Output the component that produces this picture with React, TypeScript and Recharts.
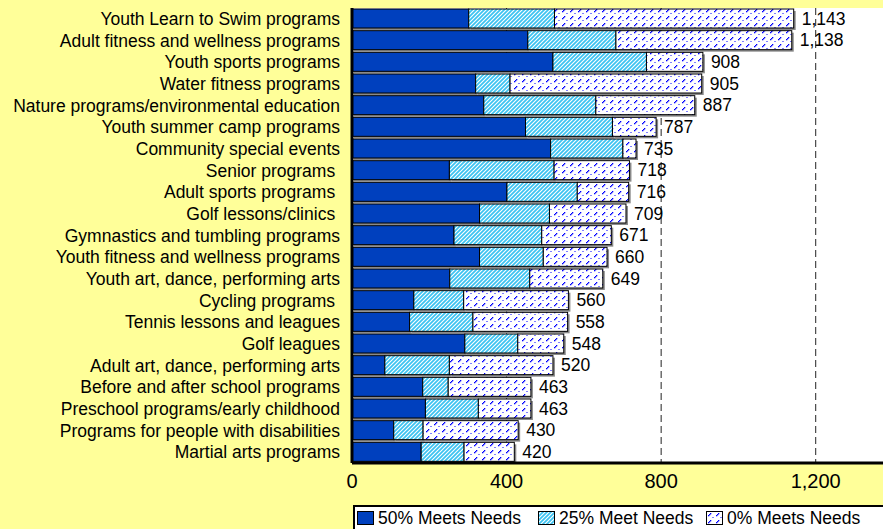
import React from 'react';
import { BarChart, Bar, XAxis, YAxis, CartesianGrid, LabelList, Legend } from 'recharts';

const NBSP = '\u00a0';
const categories = [
  'Youth Learn to Swim programs',
  'Adult fitness and wellness programs',
  'Youth sports programs',
  'Water fitness programs',
  'Nature programs/environmental education',
  'Youth summer camp programs',
  'Community special events',
  'Senior programs' + NBSP,
  'Adult sports programs' + NBSP,
  'Golf lessons/clinics' + NBSP,
  'Gymnastics and tumbling programs',
  'Youth fitness and wellness programs',
  'Youth art, dance, performing arts',
  'Cycling programs' + NBSP,
  'Tennis lessons and leagues',
  'Golf leagues',
  'Adult art, dance, performing arts',
  'Before and after school programs',
  'Preschool programs/early childhood',
  'Programs for people with disabilities',
  'Martial arts programs',
];
const meets50 = [302, 455, 520, 320, 341, 449, 514, 252, 401, 330, 264, 330, 253, 160, 149, 292, 85, 183, 190, 108, 179];
const meets25 = [222, 228, 242, 89, 290, 225, 187, 271, 182, 181, 227, 165, 207, 129, 164, 137, 167, 66, 137, 76, 111];
const meets0 = [619, 455, 146, 496, 256, 113, 34, 195, 133, 198, 180, 165, 189, 271, 245, 119, 268, 214, 136, 246, 130];
const totals = [1143, 1138, 908, 905, 887, 787, 735, 718, 716, 709, 671, 660, 649, 560, 558, 548, 520, 463, 463, 430, 420];
const xTicks = [0, 400, 800, 1200];
const seriesNames = ['50% Meets Needs', '25% Meet Needs', '0% Meets Needs'];

const data = categories.map((name, i) => ({
  name,
  m50: meets50[i],
  m25: meets25[i],
  m0: meets0[i],
  total: totals[i],
}));

const FONT = '"Liberation Sans", Arial, sans-serif';
const DARK = '#0040BE';
const fmt = (v: any) => Number(v).toLocaleString('en-US');

const Patterns = ({ suffix }: { suffix: string }) => (
  <defs>
    <pattern id={'hatch' + suffix} width="4" height="4" patternUnits="userSpaceOnUse">
      <rect x="0" y="0" width="4" height="4" fill="#3CC3F2" />
      <path d="M-1,1 L1,-1 M0,4 L4,0 M3,5 L5,3" stroke="#ffffff" strokeWidth="1.1" />
    </pattern>
    <pattern id={'dash' + suffix} width="8" height="7" patternUnits="userSpaceOnUse">
      <rect x="0" y="0" width="8" height="7" fill="#ffffff" />
      <rect x="2" y="4" width="1.3" height="1.3" fill="#0000FF" />
      <rect x="3" y="3" width="1.3" height="1.3" fill="#0000FF" />
      <rect x="4" y="2" width="1.3" height="1.3" fill="#0000FF" />
      <rect x="6.5" y="6" width="1" height="1" fill="#0000FF" />
    </pattern>
  </defs>
);

const ShadowBar = (props: any) => {
  const { x, y, width, height, fill } = props;
  if (!width || width <= 0) return null;
  return (
    <g>
      <rect x={x + 2} y={y + 2} width={width} height={height} fill="#8a8a8a" />
      <rect x={x} y={y} width={width} height={height} fill={fill} stroke="#000" strokeWidth={1} />
    </g>
  );
};

const LegendBox = () => {
  const fills = [DARK, 'url(#hatchL)', 'url(#dashL)'];
  const lefts = [2, 183, 351];
  return (
    <div
      style={{
        position: 'absolute',
        left: 0,
        top: 0,
        width: 560,
        height: 40,
        background: '#fff',
        border: '2px solid #000',
        boxSizing: 'border-box',
        fontFamily: FONT,
        fontSize: 17.5,
        color: '#000',
      }}
    >
      <svg width={0} height={0} style={{ position: 'absolute' }}>
        <Patterns suffix="L" />
      </svg>
      {seriesNames.map((n, i) => (
        <div key={n} style={{ position: 'absolute', left: lefts[i], top: 2, height: 19, display: 'flex', alignItems: 'center', whiteSpace: 'nowrap' }}>
          <svg width={18} height={15} style={{ display: 'block' }}>
            <rect x={0.5} y={0.5} width={16} height={13} fill={fills[i]} stroke="#000" strokeWidth={1} />
          </svg>
          <span style={{ marginLeft: 3, lineHeight: '19px' }}>{n}</span>
        </div>
      ))}
    </div>
  );
};

export default function App() {
  return (
    <div style={{ position: 'fixed', left: 0, top: 0, width: 883, height: 529, overflow: 'hidden', background: '#FFFF99' }}>
      <BarChart
        width={900}
        height={529}
        data={data}
        layout="vertical"
        margin={{ top: 8, right: 7, bottom: 36, left: 0 }}
        barSize={19}
        style={{ fontFamily: FONT }}
      >
        <Patterns suffix="" />
        <CartesianGrid horizontal={false} vertical stroke="#222" strokeDasharray="7 4" fill="#ffffff" fillOpacity={1} />
        <XAxis
          type="number"
          domain={[0, 1400]}
          ticks={xTicks}
          tickFormatter={fmt}
          axisLine={{ stroke: '#000', strokeWidth: 3 }}
          tickLine={false}
          tickSize={0}
          tickMargin={11}
          height={30}
          tick={{ fontSize: 20, fill: '#000', fontFamily: FONT }}
          allowDataOverflow
        />
        <XAxis
          xAxisId="top"
          orientation="top"
          type="number"
          domain={[0, 1400]}
          tick={false}
          tickLine={false}
          height={0}
          axisLine={{ stroke: '#000', strokeWidth: 3 }}
        />
        <YAxis
          type="category"
          dataKey="name"
          width={352}
          axisLine={{ stroke: '#000', strokeWidth: 3 }}
          tickLine={false}
          tickSize={0}
          tickMargin={12}
          interval={0}
          tick={{ fontSize: 17.5, fill: '#000', fontFamily: FONT }}
        />
        <Legend
          layout="horizontal"
          verticalAlign="middle"
          align="center"
          wrapperStyle={{ left: 353, top: 505, width: 560, height: 40 }}
          content={() => <LegendBox />}
        />
        <Bar dataKey="m50" name={seriesNames[0]} stackId="a" fill={DARK} shape={ShadowBar} isAnimationActive={false} />
        <Bar dataKey="m25" name={seriesNames[1]} stackId="a" fill="url(#hatch)" shape={ShadowBar} isAnimationActive={false} />
        <Bar dataKey="m0" name={seriesNames[2]} stackId="a" fill="url(#dash)" shape={ShadowBar} isAnimationActive={false}>
          <LabelList dataKey="total" position="right" offset={8} formatter={fmt} style={{ fontSize: 17.5, fill: '#000', fontFamily: FONT }} />
        </Bar>
      </BarChart>
    </div>
  );
}
